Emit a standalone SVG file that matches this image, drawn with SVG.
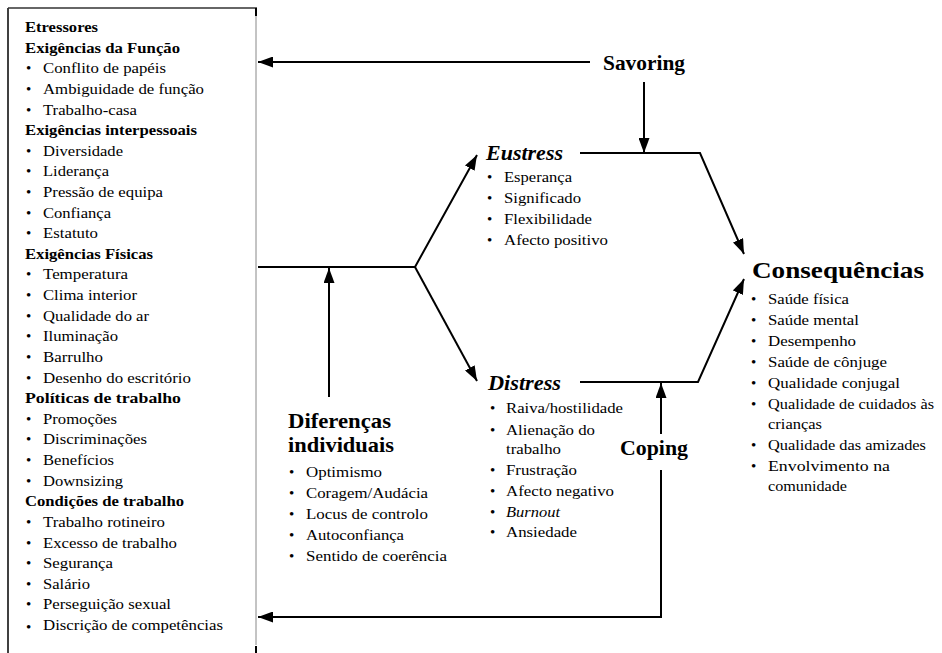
<svg xmlns="http://www.w3.org/2000/svg" width="942" height="653" viewBox="0 0 942 653" font-family="'Liberation Serif', 'Times New Roman', Times, serif">
<defs>
<marker id="ah" markerUnits="userSpaceOnUse" markerWidth="15" markerHeight="11" refX="15" refY="5.5" orient="auto">
<path d="M0,0 L15,5.5 L0,11 z" fill="#000"/>
</marker>
<style>
text{fill:#000}
.it{font-size:15px}
.hd{font-size:15px;font-weight:bold}
.big{font-weight:bold;font-size:21px}
.bi{font-weight:bold;font-style:italic;font-size:21px}
.c{fill:none;stroke:#000;stroke-width:2}
</style>
</defs>
<rect width="942" height="653" fill="#fff"/>
<g id="estressores">
<line x1="8" y1="8" x2="8" y2="653" stroke="#000" stroke-width="1.5"/>
<line x1="8" y1="8" x2="257" y2="8" stroke="#333" stroke-width="1.5"/>
<line x1="256" y1="8" x2="256" y2="645" stroke="#888" stroke-width="1"/>
<line x1="256" y1="8" x2="256" y2="16" stroke="#000" stroke-width="2"/>
<line x1="256" y1="646" x2="256" y2="653" stroke="#000" stroke-width="2"/>
<text class="hd" x="25" y="32" textLength="73" lengthAdjust="spacingAndGlyphs">Etressores</text>
<text class="hd" x="25" y="52.6" textLength="155" lengthAdjust="spacingAndGlyphs">Exigências da Função</text>
<text class="it" x="26" y="73.2">•</text><text class="it" x="43" y="73.2" textLength="123" lengthAdjust="spacingAndGlyphs">Conflito de papéis</text>
<text class="it" x="26" y="93.9">•</text><text class="it" x="43" y="93.9" textLength="161" lengthAdjust="spacingAndGlyphs">Ambiguidade de função</text>
<text class="it" x="26" y="114.5">•</text><text class="it" x="43" y="114.5" textLength="94" lengthAdjust="spacingAndGlyphs">Trabalho-casa</text>
<text class="hd" x="25" y="135.1" textLength="172" lengthAdjust="spacingAndGlyphs">Exigências interpessoais</text>
<text class="it" x="26" y="155.7">•</text><text class="it" x="43" y="155.7" textLength="80" lengthAdjust="spacingAndGlyphs">Diversidade</text>
<text class="it" x="26" y="176.3">•</text><text class="it" x="43" y="176.3" textLength="66" lengthAdjust="spacingAndGlyphs">Liderança</text>
<text class="it" x="26" y="197">•</text><text class="it" x="43" y="197" textLength="120" lengthAdjust="spacingAndGlyphs">Pressão de equipa</text>
<text class="it" x="26" y="217.6">•</text><text class="it" x="43" y="217.6" textLength="68" lengthAdjust="spacingAndGlyphs">Confiança</text>
<text class="it" x="26" y="238.2">•</text><text class="it" x="43" y="238.2" textLength="55" lengthAdjust="spacingAndGlyphs">Estatuto</text>
<text class="hd" x="25" y="258.8" textLength="128" lengthAdjust="spacingAndGlyphs">Exigências Físicas</text>
<text class="it" x="26" y="279.4">•</text><text class="it" x="43" y="279.4" textLength="85" lengthAdjust="spacingAndGlyphs">Temperatura</text>
<text class="it" x="26" y="300.1">•</text><text class="it" x="43" y="300.1" textLength="94" lengthAdjust="spacingAndGlyphs">Clima interior</text>
<text class="it" x="26" y="320.7">•</text><text class="it" x="43" y="320.7" textLength="106" lengthAdjust="spacingAndGlyphs">Qualidade do ar</text>
<text class="it" x="26" y="341.3">•</text><text class="it" x="43" y="341.3" textLength="75" lengthAdjust="spacingAndGlyphs">Iluminação</text>
<text class="it" x="26" y="361.9">•</text><text class="it" x="43" y="361.9" textLength="60" lengthAdjust="spacingAndGlyphs">Barrulho</text>
<text class="it" x="26" y="382.5">•</text><text class="it" x="43" y="382.5" textLength="148" lengthAdjust="spacingAndGlyphs">Desenho do escritório</text>
<text class="hd" x="25" y="403.2" textLength="156" lengthAdjust="spacingAndGlyphs">Políticas de trabalho</text>
<text class="it" x="26" y="423.8">•</text><text class="it" x="43" y="423.8" textLength="74" lengthAdjust="spacingAndGlyphs">Promoções</text>
<text class="it" x="26" y="444.4">•</text><text class="it" x="43" y="444.4" textLength="104" lengthAdjust="spacingAndGlyphs">Discriminações</text>
<text class="it" x="26" y="465">•</text><text class="it" x="43" y="465" textLength="71" lengthAdjust="spacingAndGlyphs">Benefícios</text>
<text class="it" x="26" y="485.6">•</text><text class="it" x="43" y="485.6" textLength="80" lengthAdjust="spacingAndGlyphs">Downsizing</text>
<text class="hd" x="25" y="506.3" textLength="159" lengthAdjust="spacingAndGlyphs">Condições de trabalho</text>
<text class="it" x="26" y="526.9">•</text><text class="it" x="43" y="526.9" textLength="122" lengthAdjust="spacingAndGlyphs">Trabalho rotineiro</text>
<text class="it" x="26" y="547.5">•</text><text class="it" x="43" y="547.5" textLength="134" lengthAdjust="spacingAndGlyphs">Excesso de trabalho</text>
<text class="it" x="26" y="568.1">•</text><text class="it" x="43" y="568.1" textLength="70" lengthAdjust="spacingAndGlyphs">Segurança</text>
<text class="it" x="26" y="588.7">•</text><text class="it" x="43" y="588.7" textLength="47" lengthAdjust="spacingAndGlyphs">Salário</text>
<text class="it" x="26" y="609.4">•</text><text class="it" x="43" y="609.4" textLength="128" lengthAdjust="spacingAndGlyphs">Perseguição sexual</text>
<text class="it" x="26" y="632">•</text><text class="it" x="43" y="630" textLength="180" lengthAdjust="spacingAndGlyphs">Discrição de competências</text>
</g>
<g id="savoring">
<text class="big" x="603" y="70" style="font-size:20px" textLength="82" lengthAdjust="spacingAndGlyphs">Savoring</text>
</g>
<g id="eustress">
<text class="bi" x="486" y="160" textLength="77" lengthAdjust="spacingAndGlyphs">Eustress</text>
<text class="it" x="487" y="182">•</text><text class="it" x="504" y="182" textLength="68" lengthAdjust="spacingAndGlyphs">Esperança</text>
<text class="it" x="487" y="203">•</text><text class="it" x="504" y="203" textLength="77" lengthAdjust="spacingAndGlyphs">Significado</text>
<text class="it" x="487" y="224">•</text><text class="it" x="504" y="224" textLength="88" lengthAdjust="spacingAndGlyphs">Flexibilidade</text>
<text class="it" x="487" y="245">•</text><text class="it" x="504" y="245" textLength="104" lengthAdjust="spacingAndGlyphs">Afecto positivo</text>
</g>
<g id="distress">
<text class="bi" x="488" y="390" textLength="73" lengthAdjust="spacingAndGlyphs">Distress</text>
<text class="it" x="490" y="413">•</text><text class="it" x="506" y="413" textLength="117" lengthAdjust="spacingAndGlyphs">Raiva/hostilidade</text>
<text class="it" x="490" y="435">•</text><text class="it" x="506" y="435" textLength="89" lengthAdjust="spacingAndGlyphs">Alienação do</text>
<text class="it" x="506" y="454" textLength="55" lengthAdjust="spacingAndGlyphs">trabalho</text>
<text class="it" x="490" y="475">•</text><text class="it" x="506" y="475" textLength="71" lengthAdjust="spacingAndGlyphs">Frustração</text>
<text class="it" x="490" y="496">•</text><text class="it" x="506" y="496" textLength="108" lengthAdjust="spacingAndGlyphs">Afecto negativo</text>
<text class="it" x="490" y="517">•</text><text class="it" x="506" y="517" font-style="italic" textLength="54" lengthAdjust="spacingAndGlyphs">Burnout</text>
<text class="it" x="490" y="537">•</text><text class="it" x="506" y="537" textLength="71" lengthAdjust="spacingAndGlyphs">Ansiedade</text>
</g>
<g id="coping">
<text class="big" x="620" y="455" style="font-size:22px" textLength="68" lengthAdjust="spacingAndGlyphs">Coping</text>
</g>
<g id="diferencas">
<text class="big" x="288" y="428" style="font-size:22px" textLength="103" lengthAdjust="spacingAndGlyphs">Diferenças</text>
<text class="big" x="288" y="452" style="font-size:22px" textLength="106" lengthAdjust="spacingAndGlyphs">individuais</text>
<text class="it" x="289" y="477">•</text><text class="it" x="306" y="477" textLength="76" lengthAdjust="spacingAndGlyphs">Optimismo</text>
<text class="it" x="289" y="498">•</text><text class="it" x="306" y="498" textLength="122" lengthAdjust="spacingAndGlyphs">Coragem/Audácia</text>
<text class="it" x="289" y="519">•</text><text class="it" x="306" y="519" textLength="122" lengthAdjust="spacingAndGlyphs">Locus de controlo</text>
<text class="it" x="289" y="540">•</text><text class="it" x="306" y="540" textLength="98" lengthAdjust="spacingAndGlyphs">Autoconfiança</text>
<text class="it" x="289" y="561">•</text><text class="it" x="306" y="561" textLength="141" lengthAdjust="spacingAndGlyphs">Sentido de coerência</text>
</g>
<g id="consequencias">
<text class="big" x="752" y="278" style="font-size:23px" textLength="172" lengthAdjust="spacingAndGlyphs">Consequências</text>
<text class="it" x="751" y="304">•</text><text class="it" x="768" y="304" textLength="81" lengthAdjust="spacingAndGlyphs">Saúde física</text>
<text class="it" x="751" y="325">•</text><text class="it" x="768" y="325" textLength="91" lengthAdjust="spacingAndGlyphs">Saúde mental</text>
<text class="it" x="751" y="346">•</text><text class="it" x="768" y="346" textLength="88" lengthAdjust="spacingAndGlyphs">Desempenho</text>
<text class="it" x="751" y="367">•</text><text class="it" x="768" y="367" textLength="119" lengthAdjust="spacingAndGlyphs">Saúde de cônjuge</text>
<text class="it" x="751" y="388">•</text><text class="it" x="768" y="388" textLength="132" lengthAdjust="spacingAndGlyphs">Qualidade conjugal</text>
<text class="it" x="751" y="409">•</text><text class="it" x="768" y="409" textLength="166" lengthAdjust="spacingAndGlyphs">Qualidade de cuidados às</text>
<text class="it" x="768" y="429" textLength="54" lengthAdjust="spacingAndGlyphs">crianças</text>
<text class="it" x="751" y="450">•</text><text class="it" x="768" y="450" textLength="158" lengthAdjust="spacingAndGlyphs">Qualidade das amizades</text>
<text class="it" x="751" y="471">•</text><text class="it" x="768" y="471" textLength="122" lengthAdjust="spacingAndGlyphs">Envolvimento na</text>
<text class="it" x="768" y="491" textLength="79" lengthAdjust="spacingAndGlyphs">comunidade</text>
</g>
<g id="connectors">
<path class="c" d="M590,62 L258,62" marker-end="url(#ah)"/>
<path class="c" d="M644,82 L644,153" marker-end="url(#ah)"/>
<path class="c" d="M580,153 L700,153 L744,254" marker-end="url(#ah)"/>
<path class="c" d="M580,382 L698,382 L744,279" marker-end="url(#ah)"/>
<path class="c" d="M661,434 L661,383" marker-end="url(#ah)"/>
<path class="c" d="M661,470 L661,617 L258,617" marker-end="url(#ah)"/>
<path class="c" d="M258,267 L415,267 L477,155" marker-end="url(#ah)"/>
<path class="c" d="M415,267 L477,381" marker-end="url(#ah)"/>
<path class="c" d="M329,397 L329,268" marker-end="url(#ah)"/>
</g>
</svg>
